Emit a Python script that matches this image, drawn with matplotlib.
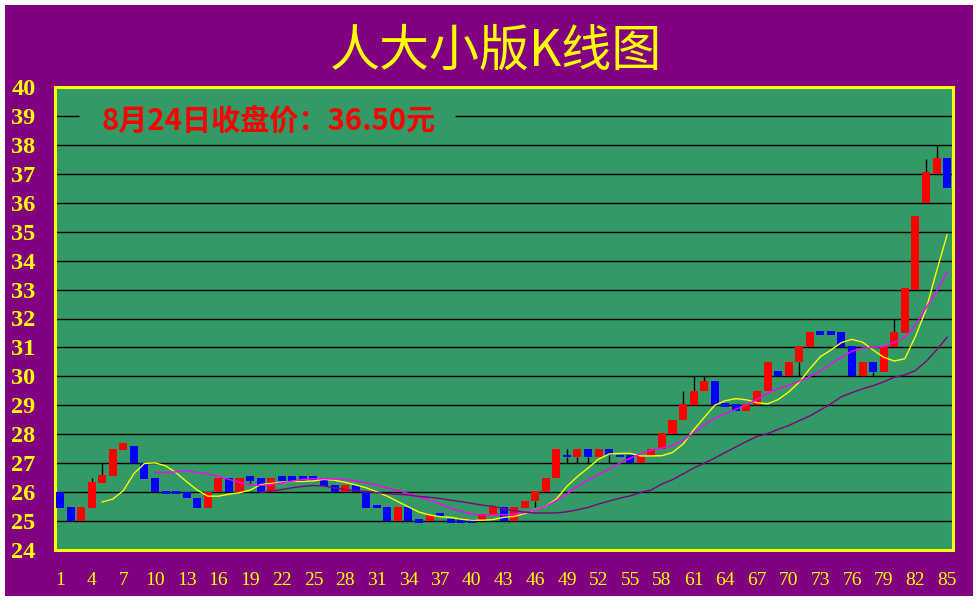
import matplotlib
matplotlib.use("Agg")
import matplotlib.pyplot as plt
from matplotlib.patches import Rectangle
import numpy as np

# daily candles (day 1..85)
opens = [26.0, 25.5, 25.0, 25.45, 26.3, 26.55, 27.45, 27.6, 27.0, 26.5,
         26.05, 26.05, 26.0, 25.8, 25.45, 26.0, 26.5, 26.0, 26.55, 26.5,
         26.0, 26.55, 26.55, 26.55, 26.55, 26.5, 26.25, 26.0, 26.25, 26.0,
         25.55, 25.5, 25.0, 25.5, 25.07, 25.0, 25.28, 25.07, 25.07, 25.07,
         25.0, 25.2, 25.5, 25.0, 25.45, 25.7, 26.0, 26.5, 27.3, 27.2,
         27.5, 27.2, 27.5, 27.3, 27.3, 27.0, 27.25, 27.5, 28.0, 28.5,
         29.0, 29.5, 29.85, 29.08, 29.05, 28.8, 29.0, 29.5, 30.2, 30.0,
         30.5, 31.0, 31.57, 31.57, 31.55, 31.05, 30.0, 30.5, 30.15, 31.0,
         31.5, 33.0, 36.0, 37.0, 37.55]
closes = [25.45, 25.0, 25.5, 26.35, 26.6, 27.5, 27.7, 27.0, 26.45, 26.0,
          25.95, 25.95, 25.8, 25.45, 26.0, 26.5, 26.0, 26.5, 26.4, 26.0,
          26.5, 26.4, 26.4, 26.4, 26.4, 26.2, 26.0, 26.25, 26.0, 25.45,
          25.45, 25.0, 25.5, 25.0, 24.94, 25.2, 25.15, 24.94, 24.94, 24.94,
          25.25, 25.5, 25.0, 25.5, 25.7, 26.05, 26.5, 27.5, 27.2, 27.5,
          27.2, 27.5, 27.3, 27.2, 27.0, 27.3, 27.5, 28.05, 28.5, 29.05,
          29.5, 29.85, 29.0, 28.94, 28.8, 29.05, 29.5, 30.5, 30.0, 30.5,
          31.05, 31.55, 31.43, 31.43, 31.0, 30.0, 30.5, 30.15, 31.05, 31.55,
          33.05, 35.55, 37.05, 37.55, 36.5]
# visible shadows only (day: value)
high_wicks = {4: 26.5, 5: 27.0, 49: 27.5, 60: 29.5, 61: 30.0, 62: 30.0,
              80: 32.0, 83: 37.5, 84: 38.0}
low_wicks = {19: 26.3, 46: 25.5, 49: 27.0, 50: 27.0, 51: 27.0, 53: 27.0,
             71: 30.0, 78: 30.0}

# average lines
ma_yellow = [25.66, 25.76, 26.05, 26.64, 26.99, 27.01, 26.91, 26.67, 26.36, 26.07,
             25.86, 25.86, 25.93, 25.98, 26.07, 26.26, 26.30, 26.34, 26.37, 26.37,
             26.39, 26.44, 26.41, 26.34, 26.25, 26.15, 26.01, 25.86, 25.67, 25.49,
             25.31, 25.21, 25.15, 25.13, 25.06, 25.03, 25.03, 25.05, 25.13, 25.16,
             25.26, 25.39, 25.51, 25.76, 26.20, 26.54, 26.83, 27.14, 27.32, 27.34,
             27.34, 27.25, 27.25, 27.26, 27.37, 27.66, 28.15, 28.58, 29.0, 29.16,
             29.23, 29.19, 29.09, 29.05, 29.2, 29.46, 29.8, 30.26, 30.68, 30.91,
             31.17, 31.28, 31.18, 30.91, 30.66, 30.53, 30.61, 31.38, 32.30, 33.63,
             34.89]
ma_magenta = [26.68, 26.68, 26.70, 26.74, 26.68, 26.63, 26.55, 26.44, 26.34, 26.25,
              26.23, 26.26, 26.32, 26.38, 26.44, 26.46, 26.46, 26.45, 26.43, 26.39,
              26.32, 26.25, 26.14, 26.06, 25.95, 25.84, 25.72, 25.59, 25.44, 25.33,
              25.24, 25.21, 25.21, 25.22, 25.24, 25.29, 25.38, 25.51, 25.71, 25.94,
              26.20, 26.41, 26.61, 26.80, 27.00, 27.17, 27.33, 27.46, 27.52, 27.60,
              27.78, 28.05, 28.32, 28.55, 28.72, 28.86, 29.02, 29.2, 29.42, 29.58,
              29.68, 29.83, 30.00, 30.18, 30.43, 30.66, 30.87, 30.98, 31.00, 31.03,
              31.17, 31.35, 31.78, 32.36, 32.93, 33.61]
ma_purple = [25.99, 26.03, 26.09, 26.15, 26.20, 26.23, 26.21, 26.15, 26.09, 26.05,
             26.02, 25.98, 25.95, 25.93, 25.90, 25.85, 25.82, 25.78, 25.72, 25.67,
             25.61, 25.55, 25.51, 25.43, 25.36, 25.31, 25.28, 25.28, 25.28, 25.32,
             25.39, 25.47, 25.59, 25.69, 25.79, 25.87, 25.99, 26.08, 26.28, 26.43,
             26.63, 26.83, 27.00, 27.18, 27.37, 27.56, 27.75, 27.92, 28.02, 28.17,
             28.3, 28.47, 28.63, 28.84, 29.05, 29.30, 29.44, 29.57, 29.68, 29.81,
             29.97, 30.05, 30.20, 30.51, 30.91, 31.35]

title = "人大小版K线图"
note = "8月24日收盘价：36.50元"
y_ticks = list(range(24, 41))
x_ticks = list(range(1, 86, 3))

PURPLE = "#800080"
GREEN = "#339966"
W, H = 977, 600

fig = plt.figure(figsize=(W / 100, H / 100), dpi=100, facecolor="white")
fig.patches.append(Rectangle((5 / W, 4 / H), 968 / W, 591 / H,
                             transform=fig.transFigure, facecolor=PURPLE,
                             edgecolor="none", zorder=-10))

ax = fig.add_axes([55 / W, 50 / H, 898 / W, 463 / H], facecolor=GREEN)

days = np.arange(1, len(opens) + 1)
o = np.array(opens)
c = np.array(closes)
lo = np.minimum(o, c)
hi = np.maximum(o, c)

# grid lines, the one at 39 broken by the note
for v in y_ticks[1:-1]:
    if v == 39:
        ax.hlines(v, 0.5, 2.8, color="black", lw=1, zorder=1)
        ax.hlines(v, 38.4, 86, color="black", lw=1, zorder=1)
    else:
        ax.axhline(v, color="black", lw=1, zorder=1)

# shadows
for d, v in high_wicks.items():
    ax.vlines(d, hi[d - 1], v, color="black", lw=1, zorder=2)
for d, v in low_wicks.items():
    ax.vlines(d, v, lo[d - 1], color="black", lw=1, zorder=2)

colors = ["#ff0000" if cc >= oo else "#0000ff" for oo, cc in zip(o, c)]
ax.bar(days, hi - lo, bottom=lo, width=0.76, color=colors,
       edgecolor="none", zorder=3)

ax.plot(np.arange(5, 86), ma_yellow, color="#ffff00", lw=1, zorder=4)
ax.plot(np.arange(10, 86), ma_magenta, color="#ff00ff", lw=1, zorder=4)
ax.plot(np.arange(20, 86), ma_purple, color=PURPLE, lw=1, zorder=4)

ax.set_xlim(0.53, 85.56)
ax.set_ylim(24, 40)
ax.set_xticks(x_ticks)
ax.set_xticklabels([str(t) for t in x_ticks], family="Liberation Serif",
                   fontsize=14, color="#ffff00")
ax.set_yticks(y_ticks)
ax.set_yticklabels([str(t) for t in y_ticks], family="Liberation Serif",
                   fontsize=17.5, fontweight="bold", color="#ffff00")
ax.tick_params(axis="x", length=0, pad=16)
ax.tick_params(axis="y", length=0, pad=14)
for s in ax.spines.values():
    s.set_color("#ffff00")
    s.set_linewidth(2.2)

ax.text(0.052, 0.927, note, transform=ax.transAxes, color="#ff0000",
        fontsize=21, fontweight="bold", style="italic",
        family=["Noto Sans CJK SC", "DejaVu Sans"], ha="left", va="center",
        zorder=5)

fig.text(496 / W, 1 - 52 / H, title, color="#ffff00", fontsize=36,
         style="italic", fontweight="light",
         family=["Noto Sans CJK SC", "DejaVu Sans"],
         ha="center", va="center")

fig.savefig("out.png", dpi=100, facecolor=fig.get_facecolor())
